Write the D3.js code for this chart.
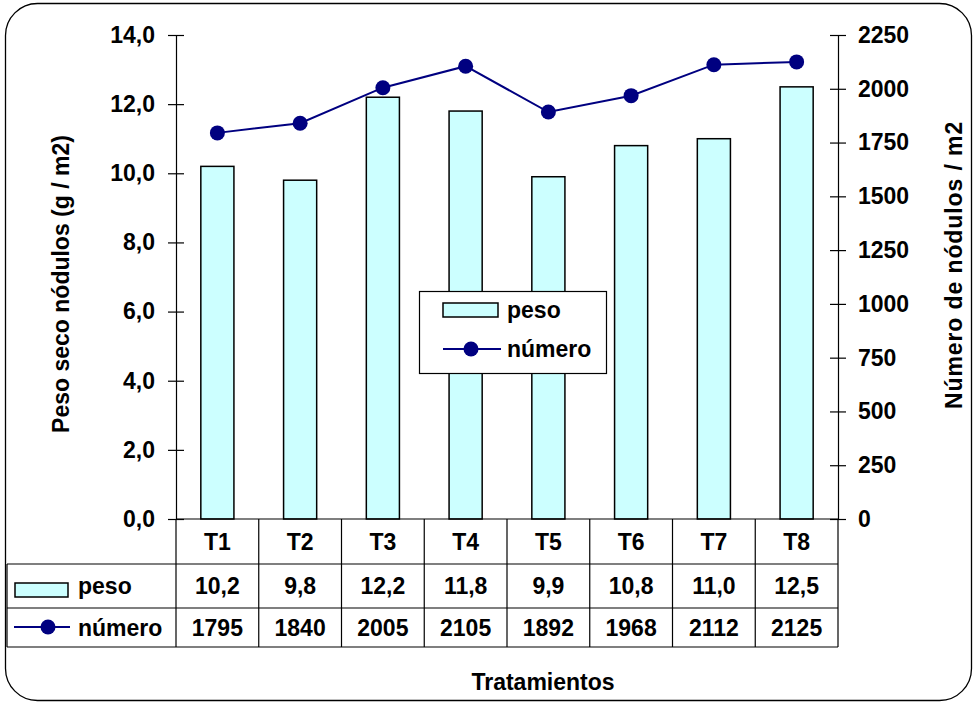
<!DOCTYPE html>
<html>
<head>
<meta charset="utf-8">
<script src="https://cdn.jsdelivr.net/npm/d3@7"></script>
<style>
  html, body { margin: 0; padding: 0; background: #fff; }
  svg text { font-family: "Liberation Sans", Arial, sans-serif; font-weight: bold; fill: #000; }
</style>
</head>
<body>
<svg id="chart" width="976" height="704"></svg>
<script>
// Treatments and measured values
const categories = ["T1", "T2", "T3", "T4", "T5", "T6", "T7", "T8"];
const peso = [10.2, 9.8, 12.2, 11.8, 9.9, 10.8, 11.0, 12.5];
const numero = [1795, 1840, 2005, 2105, 1892, 1968, 2112, 2125];
const leftTicks = [0, 2, 4, 6, 8, 10, 12, 14];
const rightTicks = [0, 250, 500, 750, 1000, 1250, 1500, 1750, 2000, 2250];

const svg = d3.select("#chart");
const plot = { left: 176, right: 838, top: 35, bottom: 519 };
const tableRows = [519, 564, 608, 647];
const fontSize = "23px";
const barFill = "#CCFFFF";
const lineColor = "#000080";

const locale = d3.formatLocale({ decimal: ",", thousands: "", grouping: [3], currency: ["", ""] });
const fmt1 = locale.format(".1f");

// Outer frame
svg.append("rect")
  .attr("x", 5.5).attr("y", 3.5).attr("width", 966).attr("height", 697)
  .attr("rx", 32).attr("ry", 32)
  .attr("fill", "#fff").attr("stroke", "#000").attr("stroke-width", 1.3);

const x = d3.scaleBand().domain(categories).range([plot.left, plot.right]).padding(0);
const yL = d3.scaleLinear().domain([0, 14]).range([plot.bottom, plot.top]);
const yR = d3.scaleLinear().domain([0, 2250]).range([plot.bottom, plot.top]);
const barW = x.bandwidth() * 0.4;

// Bars
svg.append("g").selectAll("rect").data(categories).join("rect")
  .attr("x", d => x(d) + (x.bandwidth() - barW) / 2)
  .attr("y", (d, i) => yL(peso[i]))
  .attr("width", barW)
  .attr("height", (d, i) => yL(0) - yL(peso[i]))
  .attr("fill", barFill).attr("stroke", "#000").attr("stroke-width", 1.5);

function styleAxis(ax) {
  ax.attr("font-size", null).attr("font-family", null);
  ax.select(".domain").attr("stroke", "#000").attr("stroke-width", 1.2);
  ax.selectAll(".tick line").attr("x1", -8).attr("x2", 8).attr("stroke", "#000").attr("stroke-width", 1.2);
  ax.selectAll(".tick text").style("font-size", fontSize);
}

// Left axis
const axL = svg.append("g").attr("transform", `translate(${plot.left},0)`)
  .call(d3.axisLeft(yL).tickValues(leftTicks).tickFormat(fmt1).tickSizeInner(8).tickSizeOuter(0).tickPadding(13));
styleAxis(axL);

// Right axis
const axR = svg.append("g").attr("transform", `translate(${plot.right},0)`)
  .call(d3.axisRight(yR).tickValues(rightTicks).tickFormat(d3.format("d")).tickSizeInner(8).tickSizeOuter(0).tickPadding(12));
styleAxis(axR);

// Baseline
svg.append("line").attr("x1", plot.left).attr("x2", plot.right)
  .attr("y1", plot.bottom).attr("y2", plot.bottom).attr("stroke", "#000").attr("stroke-width", 1.2);

// Line series
const line = d3.line().x((d, i) => x(categories[i]) + x.bandwidth() / 2).y(d => yR(d));
svg.append("path").datum(numero).attr("d", line)
  .attr("fill", "none").attr("stroke", lineColor).attr("stroke-width", 2);
svg.append("g").selectAll("circle").data(numero).join("circle")
  .attr("cx", (d, i) => x(categories[i]) + x.bandwidth() / 2)
  .attr("cy", d => yR(d)).attr("r", 7.5).attr("fill", lineColor);

// Axis titles
svg.append("text")
  .attr("transform", `translate(69,${(plot.top + plot.bottom) / 2 + 7}) rotate(-90)`)
  .attr("text-anchor", "middle").style("font-size", fontSize)
  .text("Peso seco nódulos (g / m2)");
svg.append("text")
  .attr("transform", `translate(962,265) rotate(-90)`)
  .attr("text-anchor", "middle").style("font-size", fontSize).style("letter-spacing", "0.9px")
  .text("Número de nódulos / m2");
svg.append("text")
  .attr("x", 543).attr("y", 690).attr("text-anchor", "middle").style("font-size", fontSize)
  .text("Tratamientos");

// Legend box
const lg = svg.append("g");
lg.append("rect").attr("x", 419.5).attr("y", 291.5).attr("width", 187).attr("height", 82)
  .attr("fill", "#fff").attr("stroke", "#000").attr("stroke-width", 1.2);
lg.append("rect").attr("x", 443).attr("y", 303).attr("width", 55).attr("height", 14)
  .attr("fill", barFill).attr("stroke", "#000").attr("stroke-width", 1.5);
lg.append("text").attr("x", 507).attr("y", 318).style("font-size", fontSize).text("peso");
lg.append("line").attr("x1", 443).attr("x2", 501).attr("y1", 349).attr("y2", 349)
  .attr("stroke", lineColor).attr("stroke-width", 2);
lg.append("circle").attr("cx", 471).attr("cy", 349).attr("r", 7.5).attr("fill", lineColor);
lg.append("text").attr("x", 507).attr("y", 357).style("font-size", fontSize).text("número");

// Data table grid
const tb = svg.append("g").attr("stroke", "#000").attr("stroke-width", 1.2);
const tableLeft = 7;
[tableRows[1], tableRows[2], tableRows[3]].forEach(yy => {
  tb.append("line").attr("x1", tableLeft).attr("x2", plot.right).attr("y1", yy).attr("y2", yy);
});
tb.append("line").attr("x1", tableLeft).attr("x2", tableLeft).attr("y1", tableRows[1]).attr("y2", tableRows[3]);
categories.forEach(c => {
  tb.append("line").attr("x1", x(c)).attr("x2", x(c)).attr("y1", tableRows[0]).attr("y2", tableRows[3]);
});
tb.append("line").attr("x1", plot.right).attr("x2", plot.right).attr("y1", tableRows[0]).attr("y2", tableRows[3]);

// Data table values
const rowMid = i => (tableRows[i] + tableRows[i + 1]) / 2;
const tt = svg.append("g").attr("text-anchor", "middle");
categories.forEach((c, i) => {
  const cx = x(c) + x.bandwidth() / 2;
  tt.append("text").attr("x", cx).attr("y", rowMid(0)).attr("dy", "0.36em").style("font-size", fontSize).text(c);
  tt.append("text").attr("x", cx).attr("y", rowMid(1)).attr("dy", "0.36em").style("font-size", fontSize).text(fmt1(peso[i]));
  tt.append("text").attr("x", cx).attr("y", rowMid(2)).attr("dy", "0.36em").style("font-size", fontSize).text(numero[i]);
});

// Row keys in the table
svg.append("rect").attr("x", 15).attr("y", 583).attr("width", 53).attr("height", 14)
  .attr("fill", barFill).attr("stroke", "#000").attr("stroke-width", 1.5);
svg.append("text").attr("x", 78).attr("y", rowMid(1)).attr("dy", "0.36em").style("font-size", fontSize).text("peso");
svg.append("line").attr("x1", 14).attr("x2", 70).attr("y1", 627).attr("y2", 627)
  .attr("stroke", lineColor).attr("stroke-width", 2);
svg.append("circle").attr("cx", 48).attr("cy", 627).attr("r", 7.5).attr("fill", lineColor);
svg.append("text").attr("x", 78).attr("y", rowMid(2)).attr("dy", "0.36em").style("font-size", fontSize).text("número");
</script>
</body>
</html>
